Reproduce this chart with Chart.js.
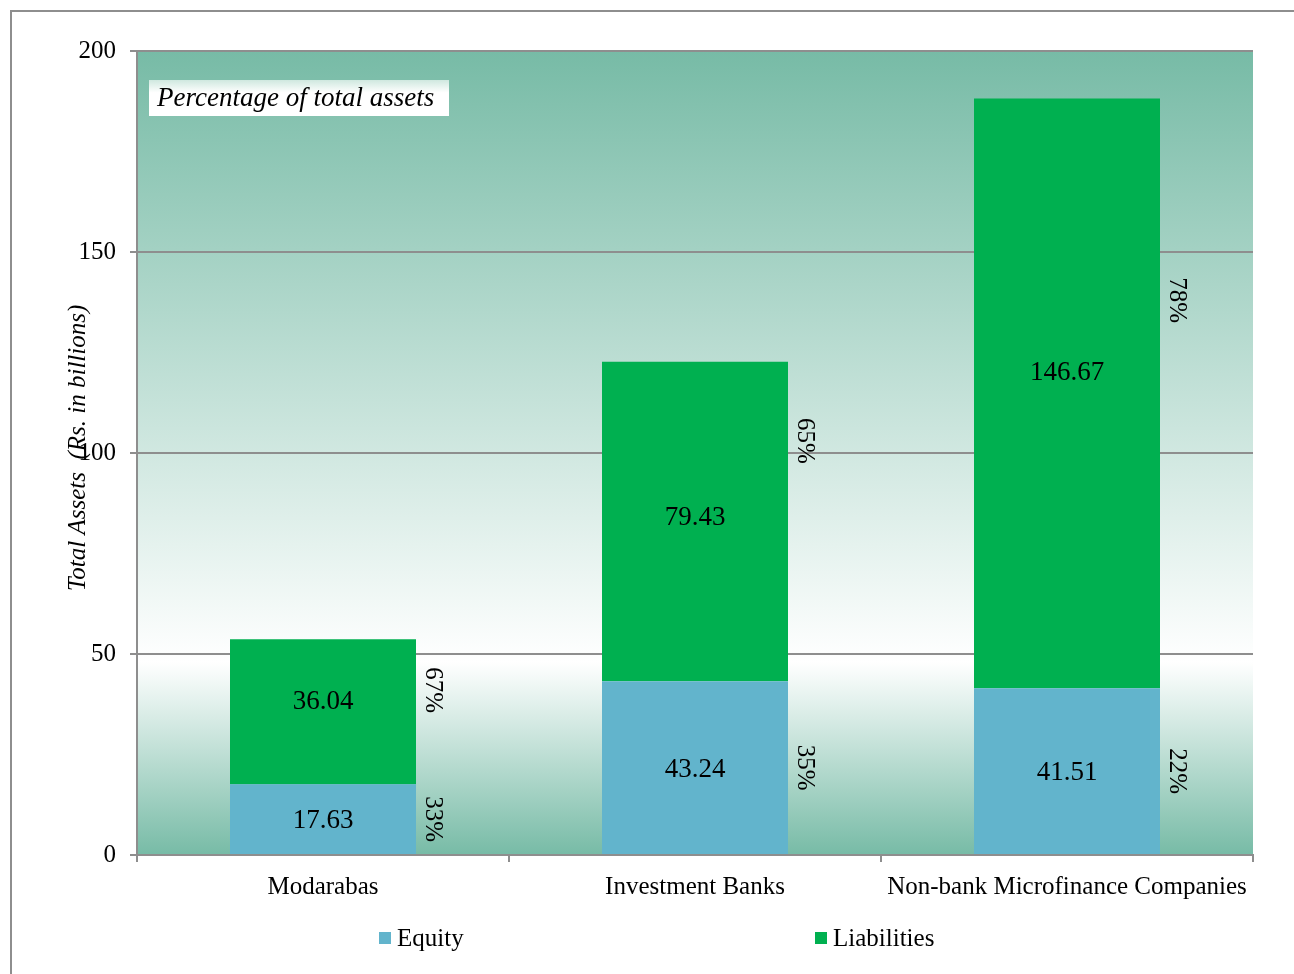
<!DOCTYPE html>
<html>
<head>
<meta charset="utf-8">
<title>Total Assets</title>
<script src="https://cdn.jsdelivr.net/npm/chart.js@4"></script>
<style>
	html, body { margin: 0; padding: 0; background: #fff; }
	canvas { display: block; }
</style>
</head>
<body>
<canvas id="assetsChart" width="1294" height="974"></canvas>
<script>
const categories = ['Modarabas', 'Investment Banks', 'Non-bank Microfinance Companies']
const equity = [17.63, 43.24, 41.51]
const liabilities = [36.04, 79.43, 146.67]
const equityShare = ['33%', '35%', '22%']
const liabilityShare = ['67%', '65%', '78%']
const yTicks = [0, 50, 100, 150, 200]

const serif = '"Liberation Serif", "Times New Roman", serif'
const gridGrey = '#8e8e8e'

// frame, gradient plot background and the caption box
const backdrop = {
	id: 'backdrop',
	beforeDraw(chart) {
		const { ctx, chartArea: a } = chart
		ctx.save()
		ctx.strokeStyle = gridGrey
		ctx.lineWidth = 2
		ctx.strokeRect(11, 11, 1400, 1100)
		const g = ctx.createLinearGradient(0, a.top, 0, a.bottom)
		g.addColorStop(0, '#77bba6')
		g.addColorStop(0.76, '#ffffff')
		g.addColorStop(1, '#77bba6')
		ctx.fillStyle = g
		ctx.fillRect(a.left, a.top, a.right - a.left, a.bottom - a.top)
		ctx.restore()
	},
	afterDatasetsDraw(chart) {
		const { ctx } = chart
		ctx.save()
		const g = ctx.createLinearGradient(0, 80, 0, 116)
		g.addColorStop(0, '#cfe8df')
		g.addColorStop(0.35, '#ffffff')
		g.addColorStop(1, '#ffffff')
		ctx.fillStyle = g
		ctx.fillRect(149, 80, 300, 36)
		ctx.fillStyle = '#000'
		ctx.font = 'italic 27px ' + serif
		ctx.textBaseline = 'alphabetic'
		ctx.fillText('Percentage of total assets', 157, 106)
		ctx.restore()
	},
}

// values inside the bars and rotated shares beside them
const barLabels = {
	id: 'barLabels',
	afterDatasetsDraw(chart, args, opts) {
		const { ctx } = chart
		const y = chart.scales.y
		ctx.save()
		ctx.fillStyle = '#000'
		ctx.textAlign = 'center'
		ctx.textBaseline = 'middle'
		chart.data.datasets.forEach((ds, di) => {
			chart.getDatasetMeta(di).data.forEach((bar, i) => {
				const mid = (bar.y + bar.base) / 2
				const vy = di === 0 ? mid : y.getPixelForValue(opts.valueAt[i])
				ctx.font = '27px ' + serif
				ctx.fillText(ds.data[i].toFixed(2), bar.x, vy + 2)
				const share = di === 0 ? equityShare[i] : liabilityShare[i]
				const py = di === 0 ? mid : y.getPixelForValue(opts.shareAt[i])
				ctx.font = '25px ' + serif
				ctx.save()
				ctx.translate(bar.x + bar.width / 2 + 17, py)
				ctx.rotate(Math.PI / 2)
				ctx.fillText(share, 0, 0)
				ctx.restore()
			})
		})
		ctx.restore()
	},
	afterDraw(chart) {
		const { ctx } = chart
		ctx.save()
		ctx.fillStyle = '#000'
		// axis title, sitting over the tick labels
		ctx.font = 'italic 25px ' + serif
		ctx.textAlign = 'center'
		ctx.textBaseline = 'middle'
		ctx.translate(78, 448)
		ctx.rotate(-Math.PI / 2)
		ctx.fillText('Total Assets  (Rs. in billions)', 0, 0)
		ctx.restore()

		// legend
		ctx.save()
		ctx.font = '25px ' + serif
		ctx.textBaseline = 'middle'
		const items = [
			{ text: chart.data.datasets[0].label, color: chart.data.datasets[0].backgroundColor, x: 379 },
			{ text: chart.data.datasets[1].label, color: chart.data.datasets[1].backgroundColor, x: 815 },
		]
		items.forEach(it => {
			ctx.fillStyle = it.color
			ctx.fillRect(it.x, 932, 12, 12)
			ctx.fillStyle = '#000'
			ctx.fillText(it.text, it.x + 18, 939)
		})
		ctx.restore()
	},
}

const ctx = document.getElementById('assetsChart').getContext('2d')
new Chart(ctx, {
	type: 'bar',
	data: {
		labels: categories,
		datasets: [
			{
				label: 'Equity',
				data: equity,
				backgroundColor: '#62b4cc',
			},
			{
				label: 'Liabilities',
				data: liabilities,
				backgroundColor: '#00b050',
			},
		],
	},
	options: {
		responsive: false,
		devicePixelRatio: 1,
		animation: false,
		events: [],
		barPercentage: 0.5,
		categoryPercentage: 1,
		layout: {
			padding: { left: 12, top: 51, right: 41, bottom: 49 },
		},
		plugins: {
			legend: { display: false },
			tooltip: { enabled: false },
			barLabels: { shareAt: [41, 103, 138], valueAt: [38.6, 84.3, 120.4] },
		},
		scales: {
			x: {
				stacked: true,
				afterFit: s => { s.height = 70 },
				grid: {
					drawOnChartArea: false,
					drawTicks: true,
					tickLength: 7,
					color: gridGrey,
					lineWidth: 2,
				},
				border: { color: gridGrey, width: 2 },
				ticks: {
					color: '#000',
					padding: 10,
					font: { family: serif, size: 25 },
					maxRotation: 0,
				},
			},
			y: {
				stacked: true,
				min: 0,
				max: 200,
				afterFit: s => { s.width = 125 },
				afterBuildTicks: s => { s.ticks = yTicks.map(v => ({ value: v })) },
				grid: {
					color: gridGrey,
					lineWidth: 2,
					tickLength: 7,
				},
				border: { color: gridGrey, width: 2 },
				ticks: {
					color: '#000',
					padding: 14,
					font: { family: serif, size: 25 },
				},
			},
		},
	},
	plugins: [backdrop, barLabels],
})
</script>
</body>
</html>
